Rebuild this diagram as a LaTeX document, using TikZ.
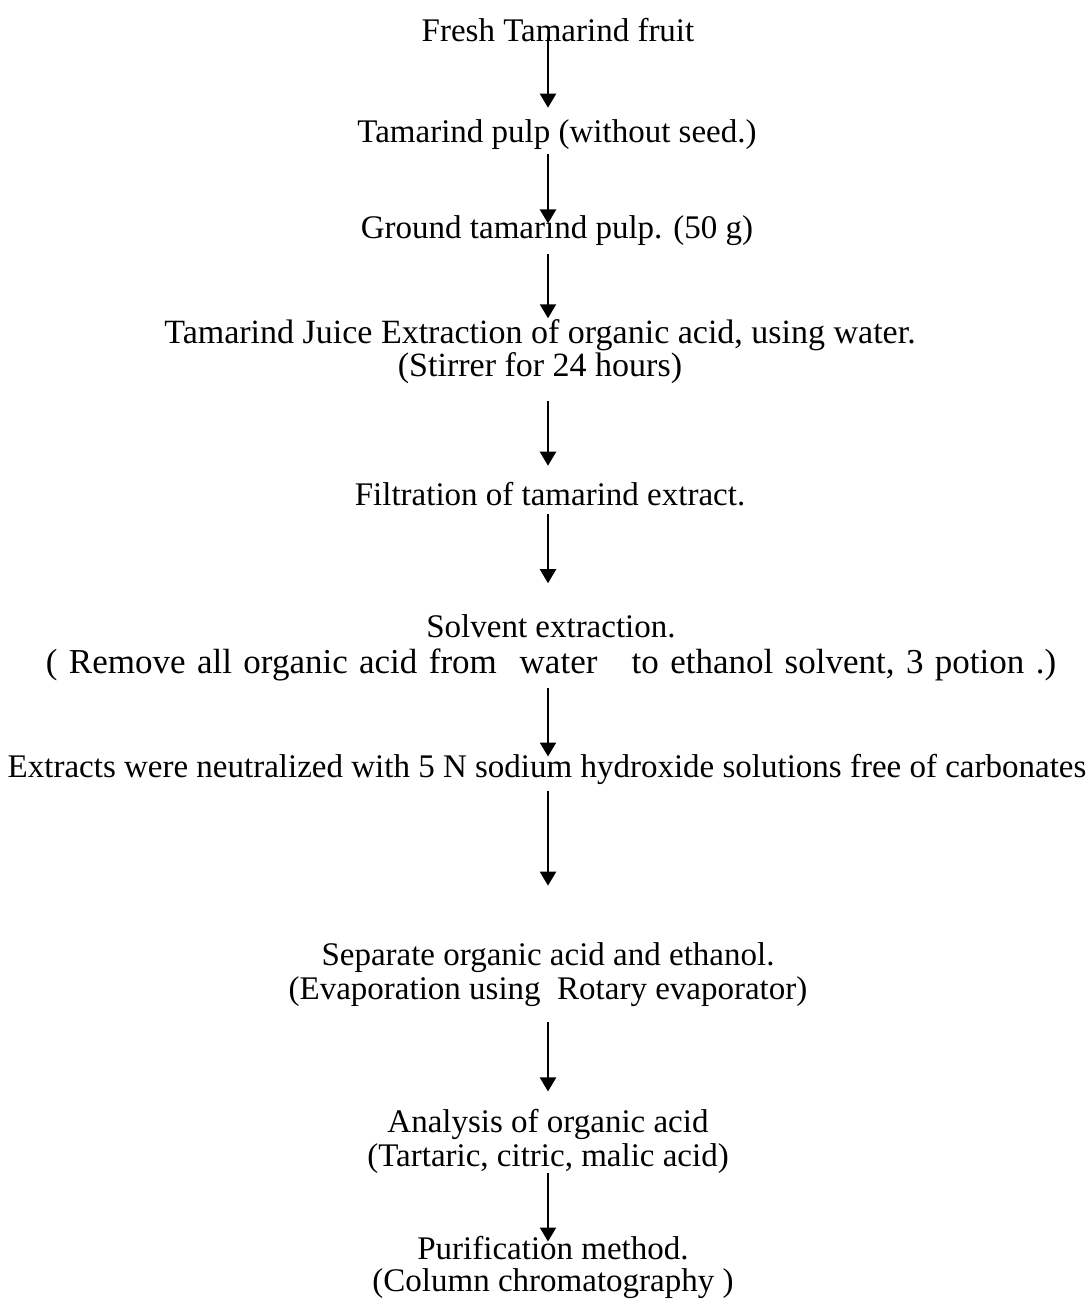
\documentclass[tikz,border=0pt]{standalone}
\usepackage{fontspec}
\setmainfont{Liberation Serif}
\usetikzlibrary{arrows.meta,positioning}

\begin{document}
\begin{tikzpicture}[x=0.5pt, y=0.5pt, >={Triangle[width=8pt,length=7pt]},
  stage/.style={inner sep=0pt, align=center, font=\fontsize{16.5}{17}\selectfont},
  flow/.style={->, line width=1.1pt}]
  \useasboundingbox (0,0) rectangle (1090,-1300);
  \coordinate (spine) at (548,0);
  % process steps, top to bottom
  \node[stage, anchor=base] (fresh) at (558,-42) {Fresh Tamarind fruit};
  \node[stage, below=38pt of fresh, xshift=-0.5pt] (pulp) {Tamarind pulp (without seed.)};
  \node[stage, below=33pt of pulp] (ground) {Ground tamarind pulp. (50 g)};
  \node[stage, below=36.5pt of ground, xshift=-8.5pt, font=\fontsize{17}{17}\selectfont] (juice)
    {Tamarind Juice Extraction of organic acid, using water.\\[-0.5pt](Stirrer for 24 hours)};
  \node[stage, below=48.75pt of juice, xshift=5pt] (filter) {Filtration of tamarind extract.};
  \node[stage, below=54pt of filter, xshift=0.5pt, font=\fontsize{16.5}{18}\selectfont] (solvent)
    {Solvent extraction.\\{\fontsize{17.5}{18}\selectfont\spaceskip=5.7pt plus 1pt ( Remove all organic acid from\ \ water\ \ \ to ethanol solvent, 3 potion .)}};
  \node[stage, below=36pt of solvent, xshift=-2pt] (neutral)
    {Extracts were neutralized with 5 N sodium hydroxide solutions free of carbonates};
  \node[stage, below=79pt of neutral, xshift=0.5pt] (separate)
    {Separate organic acid and ethanol.\\(Evaporation using\ \ Rotary evaporator)};
  \node[stage, below=50.5pt of separate] (analysis)
    {Analysis of organic acid\\(Tartaric, citric, malic acid)};
  \node[stage, below=31pt of analysis, xshift=2.5pt] (purify)
    {Purification method.\\[-1pt](Column chromatography )};
  % arrows
  \draw[flow, shorten <=-3pt, shorten >=5.5pt] (fresh.south -| spine) -- (pulp.north -| spine);
  \draw[flow, shorten <=2.5pt, shorten >=-4pt] (pulp.south -| spine) -- (ground.north -| spine);
  \draw[flow, shorten <=4pt, shorten >=0.5pt] (ground.south -| spine) -- (juice.north -| spine);
  \draw[flow, shorten <=8.5pt, shorten >=8pt] (juice.south -| spine) -- (filter.north -| spine);
  \draw[flow, shorten <=4pt, shorten >=15.5pt] (filter.south -| spine) -- (solvent.north -| spine);
  \draw[flow, shorten <=3pt, shorten >=-1.5pt] (solvent.south -| spine) -- (neutral.north -| spine);
  \draw[flow, shorten <=3pt, shorten >=28.5pt] (neutral.south -| spine) -- (separate.north -| spine);
  \draw[flow, shorten <=7.5pt, shorten >=8.5pt] (separate.south -| spine) -- (analysis.north -| spine);
  \draw[flow, shorten <=-0.5pt, shorten >=-3pt] (analysis.south -| spine) -- (purify.north -| spine);
\end{tikzpicture}
\end{document}
